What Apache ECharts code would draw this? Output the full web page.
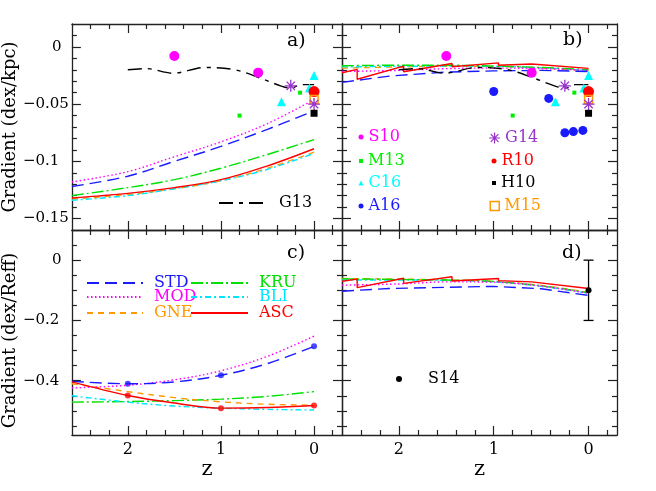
<!DOCTYPE html>
<html>
<head>
<meta charset="utf-8">
<script src="https://cdn.jsdelivr.net/npm/echarts@6/dist/echarts.min.js"></script>
<style>html,body{margin:0;background:#fff}#c{width:656px;height:491px}</style>
</head>
<body>
<div id="c"></div>
<script>
// ticks
const zTicks = [0, 1, 2];
const zMinor = [-0.2, 0.2, 0.4, 0.6, 0.8, 1.2, 1.4, 1.6, 1.8, 2.2, 2.4];
const kpcTicks = [0, -0.05, -0.1, -0.15];
const kpcMinor = [0.01, -0.01, -0.02, -0.03, -0.04, -0.06, -0.07, -0.08, -0.09, -0.11, -0.12, -0.13, -0.14];
const reffTicks = [0, -0.2, -0.4];
const reffMinor = [0.05, -0.05, -0.1, -0.15, -0.25, -0.3, -0.35, -0.45, -0.5, -0.55];

// model curves, z grid
const zCurve = [2.6, 2.0, 1.5, 1.0, 0.5, 0.0];
// a) dex/kpc
const aSTD = [-0.122, -0.113, -0.100, -0.087, -0.072, -0.056];
const aMOD = [-0.118, -0.109, -0.096, -0.083, -0.067, -0.046];
const aKRU = [-0.130, -0.123, -0.116, -0.106, -0.094, -0.081];
const aGNE = [-0.133, -0.129, -0.124, -0.117, -0.106, -0.092];
const aBLI = [-0.134, -0.130, -0.124, -0.117, -0.107, -0.093];
const aASC = [-0.132, -0.128, -0.123, -0.116, -0.104, -0.089];
// b) dex/kpc (stepped)
const zStdStep = [2.6, 2.1, 2.1, 1.5, 1.0, 0.5, 0.0];
const zAscStep = [2.6, 2.44, 2.44, 1.95, 1.95, 1.44, 1.44, 0.95, 0.95, 0.6, 0.6, 0.0];
const bSTD = [-0.031, -0.0255, -0.027, -0.022, -0.021, -0.0205, -0.0215];
const bASC = [-0.0226, -0.0197, -0.0283, -0.0168, -0.0217, -0.0145, -0.0174, -0.0140, -0.0160, -0.0150, -0.0160, -0.0188];
const bMOD = [-0.0215, -0.0205, -0.019, -0.0185, -0.019, -0.0205];
const bKRU = [-0.0165, -0.016, -0.016, -0.0168, -0.018, -0.020];
const bBLI = [-0.0175, -0.017, -0.0168, -0.017, -0.0183, -0.0205];
const bGNE = [-0.0185, -0.0175, -0.017, -0.0172, -0.0185, -0.021];
// c) dex/Reff
const cSTD = [-0.402, -0.410, -0.404, -0.382, -0.343, -0.286];
const cMOD = [-0.424, -0.415, -0.397, -0.367, -0.319, -0.252];
const cKRU = [-0.471, -0.469, -0.466, -0.461, -0.452, -0.436];
const cBLI = [-0.450, -0.471, -0.484, -0.491, -0.495, -0.497];
const cGNE = [-0.410, -0.436, -0.456, -0.470, -0.478, -0.481];
const cASC = [-0.404, -0.449, -0.474, -0.491, -0.489, -0.482];
const cMarkZ = [2, 1, 0];
const cSTDmark = [-0.410, -0.382, -0.286];
const cASCmark = [-0.449, -0.491, -0.482];
// d) dex/Reff (stepped)
const dSTD = [-0.103, -0.094, -0.099, -0.090, -0.087, -0.095, -0.117];
const dASC = [-0.070, -0.063, -0.091, -0.060, -0.077, -0.055, -0.069, -0.061, -0.068, -0.072, -0.076, -0.094];
const dMOD = [-0.083, -0.079, -0.072, -0.073, -0.086, -0.110];
const dKRU = [-0.062, -0.064, -0.066, -0.071, -0.085, -0.108];
const dBLI = [-0.066, -0.066, -0.067, -0.072, -0.087, -0.110];
const dGNE = [-0.061, -0.063, -0.065, -0.070, -0.084, -0.107];

// observations
const zG13 = [2.0, 1.8, 1.52, 1.17, 0.85, 0.57, 0.36, 0.25, 0.14, 0.0];
const vG13 = [-0.020, -0.019, -0.023, -0.018, -0.020, -0.0275, -0.034, -0.036, -0.033, -0.033];
const zS10 = [1.5, 0.6], vS10 = [-0.008, -0.0225];
const zM13 = [0.8, 0.15], vM13 = [-0.060, -0.040];
const zC16 = [0.35, 0.05, 0.0], vC16 = [-0.048, -0.036, -0.025];
const zG14 = [0.25, 0.0], vG14 = [-0.034, -0.050];
const zR10 = [0.0], vR10 = [-0.039];
const zM15 = [0.0], vM15 = [-0.046];
const zH10 = [0.0], vH10 = [-0.058];
const zA16 = [1.0, 0.42, 0.25, 0.16, 0.06], vA16 = [-0.039, -0.045, -0.075, -0.074, -0.073];
const zS14 = [0.0], vS14 = [-0.1], eS14 = [0.1];

const FONT = '"DejaVu Serif", serif';
const AX = '#222';
const STY = {
    STD: { color: '#1a1aff', dash: [12, 6] },
    MOD: { color: '#ff00ff', dash: [1.5, 2.5] },
    GNE: { color: '#ff9900', dash: [6, 5] },
    KRU: { color: '#00e000', dash: [12, 3, 2, 3] },
    BLI: { color: '#00e5ff', dash: [6, 3, 2, 3] },
    ASC: { color: '#ff0000', dash: 'solid' },
    G13: { color: '#000000', dash: [14, 6, 4, 6] }
};
const C = { S10: '#ff00ff', M13: '#00ee00', C16: '#00ffff', A16: '#1a1aff', G14: '#9933cc', R10: '#ff0000', H10: '#000000', M15: '#ff9900', S14: '#000000' };
const STAR = 'path://M0,6L12,6M6,0L6,12M1.8,1.8L10.2,10.2M1.8,10.2L10.2,1.8';
const NOSYM = { itemStyle: { color: 'rgba(0,0,0,0)', borderColor: 'rgba(0,0,0,0)', borderWidth: 0 } };

function mkX(gi, pos, major) {
    const lab = major && pos === 'bottom' && gi >= 2;
    return {
        gridIndex: gi, type: 'value', min: -0.3, max: 2.6, inverse: true, position: pos,
        name: lab ? 'z' : '', nameLocation: 'middle', nameGap: 21,
        nameTextStyle: { fontFamily: FONT, fontSize: 21, color: '#000' },
        axisLine: { show: major, onZero: false, lineStyle: { color: AX, width: 1.3 } },
        axisTick: { show: true, inside: true, length: major ? 9 : 5, customValues: major ? zTicks : zMinor, lineStyle: { color: AX, width: 1.2 } },
        axisLabel: { show: lab, customValues: zTicks, margin: 7, fontFamily: FONT, fontSize: 16, color: '#000' },
        splitLine: { show: false }
    };
}

function mkY(gi, pos, major) {
    const top = gi < 2;
    const lab = major && pos === 'left' && (gi === 0 || gi === 2);
    return {
        gridIndex: gi, type: 'value', min: top ? -0.16 : -0.58, max: top ? 0.02 : 0.1, position: pos,
        name: lab ? (top ? 'Gradient (dex/kpc)' : 'Gradient (dex/Reff)') : '',
        nameLocation: 'middle', nameGap: 49,
        nameTextStyle: { fontFamily: FONT, fontSize: 18, color: '#000', padding: top ? 0 : [0, 16, 0, 0] },
        axisLine: { show: major, onZero: false, lineStyle: { color: AX, width: 1.3 } },
        axisTick: { show: true, inside: true, length: major ? 9 : 5, customValues: major ? (top ? kpcTicks : reffTicks) : (top ? kpcMinor : reffMinor), lineStyle: { color: AX, width: 1.2 } },
        axisLabel: {
            show: lab, customValues: top ? kpcTicks : reffTicks, align: 'left', margin: 49,
            fontFamily: FONT, fontSize: 15, color: '#000',
            formatter: v => v === 0 ? '{z|0}' : '\u2212' + Math.abs(v),
            rich: { z: { padding: [0, 0, 0, 29], fontFamily: FONT, fontSize: 15, color: '#000' } }
        },
        splitLine: { show: false }
    };
}

function line(name, gi, zs, vs, smooth) {
    const s = STY[name];
    return {
        name, type: 'line', xAxisIndex: gi * 4, yAxisIndex: gi * 4,
        data: zs.map((z, i) => [z, vs[i]]), symbol: 'none', smooth: smooth ? 0.35 : false,
        lineStyle: { color: s.color, width: 1.4, type: s.dash }, itemStyle: { color: s.color }
    };
}

function pts(name, gi, zs, vs, symbol, size, extra) {
    return {
        name, type: 'scatter', xAxisIndex: gi * 4, yAxisIndex: gi * 4,
        data: zs.map((z, i) => [z, vs[i]]), symbol, symbolSize: size,
        itemStyle: Object.assign({ color: C[name], opacity: 1 }, extra || {}), z: 4
    };
}

function lg(name, color, left, cy, w, h, padL, padB, icon) {
    const pv = padB || 0;
    const d = { name, textStyle: { color } };
    if (icon) Object.assign(d, icon);
    return {
        data: [d], selectedMode: false, padding: 0, itemGap: 0,
        left, top: cy - Math.max(h, 16 + pv) / 2, itemWidth: w, itemHeight: h,
        textStyle: { fontFamily: FONT, fontSize: 16, color, padding: [0, 0, pv, padL || 0] }
    };
}

const grids = [
    { left: 67, top: 24, width: 275, height: 206 },
    { left: 342, top: 24, width: 275, height: 206 },
    { left: 67, top: 230, width: 275, height: 205 },
    { left: 342, top: 230, width: 275, height: 205 }
];
const xAxes = [], yAxes = [];
grids.forEach((g, gi) => {
    xAxes.push(mkX(gi, 'bottom', true), mkX(gi, 'bottom', false), mkX(gi, 'top', true), mkX(gi, 'top', false));
    yAxes.push(mkY(gi, 'left', true), mkY(gi, 'left', false), mkY(gi, 'right', true), mkY(gi, 'right', false));
});

const series = [];
// a
series.push(line('MOD', 0, zCurve, aMOD, true), line('STD', 0, zCurve, aSTD, true), line('KRU', 0, zCurve, aKRU, true),
    line('GNE', 0, zCurve, aGNE, true), line('BLI', 0, zCurve, aBLI, true), line('ASC', 0, zCurve, aASC, true),
    line('G13', 0, zG13, vG13, true));
// b
series.push(line('GNE', 1, zCurve, bGNE, true), line('BLI', 1, zCurve, bBLI, true), line('KRU', 1, zCurve, bKRU, true),
    line('MOD', 1, zCurve, bMOD, true), line('STD', 1, zStdStep, bSTD, false), line('ASC', 1, zAscStep, bASC, false),
    line('G13', 1, zG13, vG13, true));
// c
series.push(line('KRU', 2, zCurve, cKRU, true), line('BLI', 2, zCurve, cBLI, true), line('GNE', 2, zCurve, cGNE, true),
    line('MOD', 2, zCurve, cMOD, true), line('STD', 2, zCurve, cSTD, true), line('ASC', 2, zCurve, cASC, true));
series.push({ name: 'cSTDmark', type: 'scatter', xAxisIndex: 8, yAxisIndex: 8, data: cMarkZ.map((z, i) => [z, cSTDmark[i]]), symbolSize: 6, itemStyle: { color: STY.STD.color } });
series.push({ name: 'cASCmark', type: 'scatter', xAxisIndex: 8, yAxisIndex: 8, data: cMarkZ.map((z, i) => [z, cASCmark[i]]), symbolSize: 6, itemStyle: { color: STY.ASC.color } });
// d
series.push(line('GNE', 3, zCurve, dGNE, true), line('BLI', 3, zCurve, dBLI, true), line('KRU', 3, zCurve, dKRU, true),
    line('MOD', 3, zCurve, dMOD, true), line('STD', 3, zStdStep, dSTD, false), line('ASC', 3, zAscStep, dASC, false));

// observed points in a) and b)
[0, 1].forEach(gi => {
    series.push(pts('S10', gi, zS10, vS10, 'circle', 10));
    series.push(pts('M13', gi, zM13, vM13, 'rect', 4));
    series.push(pts('C16', gi, zC16, vC16, 'triangle', 9));
    series.push(pts('R10', gi, zR10, vR10, 'circle', 11));
    series.push(pts('M15', gi, zM15, vM15, 'rect', 8, { color: 'transparent', borderColor: C.M15, borderWidth: 1.5 }));
    series.push(pts('G14', gi, zG14, vG14, STAR, 12, { borderColor: C.G14, borderWidth: 1.3 }));
    series.push(pts('H10', gi, zH10, vH10, 'rect', 7));
});
series.push(pts('A16', 1, zA16, vA16, 'circle', 9));
// d) S14 with error bar
series.push({
    name: 'S14err', type: 'custom', xAxisIndex: 12, yAxisIndex: 12,
    data: zS14.map((z, i) => [z, vS14[i], eS14[i]]),
    renderItem: (params, api) => {
        const hi = api.coord([api.value(0), api.value(1) + api.value(2)]);
        const lo = api.coord([api.value(0), api.value(1) - api.value(2)]);
        const st = { stroke: '#000', lineWidth: 1.3 };
        return { type: 'group', children: [
            { type: 'line', shape: { x1: hi[0], y1: hi[1], x2: lo[0], y2: lo[1] }, style: st },
            { type: 'line', shape: { x1: hi[0] - 5, y1: hi[1], x2: hi[0] + 5, y2: hi[1] }, style: st },
            { type: 'line', shape: { x1: lo[0] - 5, y1: lo[1], x2: lo[0] + 5, y2: lo[1] }, style: st }
        ] };
    }
});
series.push(pts('S14', 3, zS14, vS14, 'circle', 6));

const legends = [
    lg('G13', '#000', 218, 206, 49, 10, 6, 6, NOSYM),
    lg('S10', C.S10, 358.5, 137, 5, 5),
    lg('M13', C.M13, 359, 161, 4, 4),
    lg('C16', C.C16, 358.5, 183, 5, 5),
    lg('A16', C.A16, 358.5, 206, 5, 5),
    lg('G14', C.G14, 488.5, 138, 11, 11, 0, 0, { itemStyle: { color: C.G14, borderColor: C.G14, borderWidth: 1.2 } }),
    lg('R10', C.R10, 491.5, 161, 5, 5),
    lg('H10', '#000', 492, 183, 4, 4),
    lg('M15', C.M15, 489.5, 206, 9, 9, 0, 0, { itemStyle: { color: 'transparent', borderColor: C.M15, borderWidth: 1.5 } }),
    lg('STD', STY.STD.color, 86, 287, 56, 10, 6, 8, NOSYM),
    lg('MOD', STY.MOD.color, 86, 301, 56, 10, 6, 8, NOSYM),
    lg('GNE', STY.GNE.color, 86, 317, 56, 10, 6, 8, NOSYM),
    lg('KRU', STY.KRU.color, 190, 287, 57, 10, 6, 8, NOSYM),
    lg('BLI', STY.BLI.color, 190, 301, 57, 10, 6, 8, NOSYM),
    lg('ASC', STY.ASC.color, 190, 317, 57, 10, 6, 8, NOSYM),
    lg('S14', '#000', 396, 379, 6, 6, 21)
];

const chart = echarts.init(document.getElementById('c'));
chart.setOption({
    animation: false,
    backgroundColor: '#fff',
    grid: grids,
    xAxis: xAxes,
    yAxis: yAxes,
    legend: legends,
    series,
    graphic: [
        { type: 'text', left: 287, top: 32, style: { text: 'a)', font: '19px ' + FONT, fill: '#000' } },
        { type: 'text', left: 563, top: 31, style: { text: 'b)', font: '19px ' + FONT, fill: '#000' } },
        { type: 'text', left: 287, top: 244, style: { text: 'c)', font: '19px ' + FONT, fill: '#000' } },
        { type: 'text', left: 562, top: 244, style: { text: 'd)', font: '19px ' + FONT, fill: '#000' } }
    ]
});
window.addEventListener('resize', () => chart.resize());
</script>
</body>
</html>
